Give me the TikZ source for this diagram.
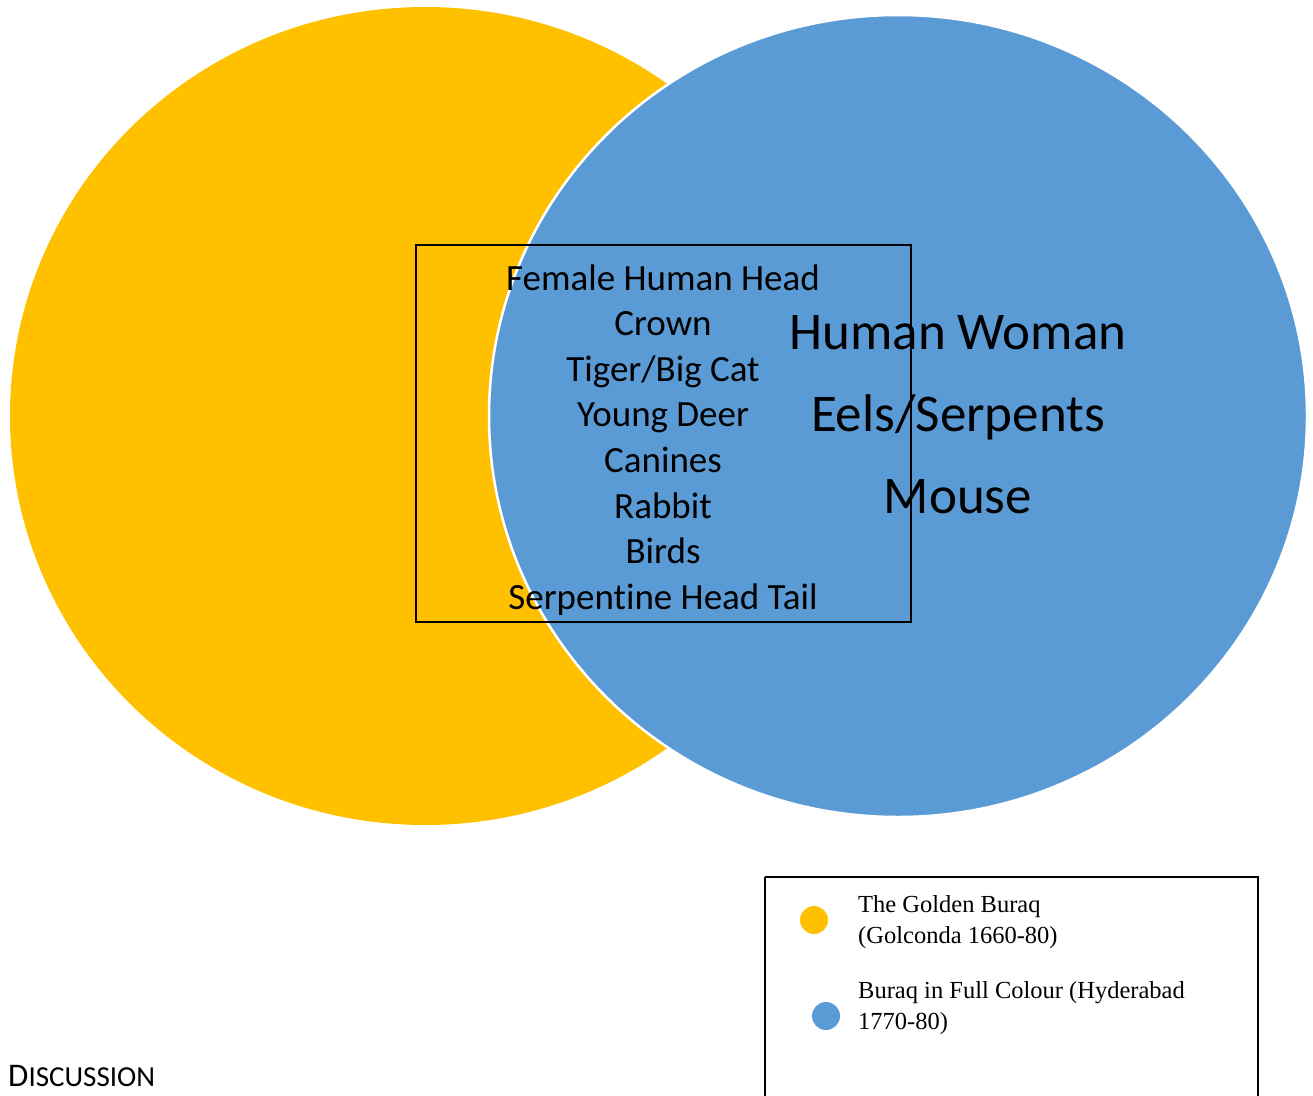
\documentclass[tikz,border=0pt]{standalone}
\usepackage{fontspec}
\setmainfont[Ligatures=NoCommon]{Carlito}
\newfontfamily\legfont{Liberation Serif}
\definecolor{venyellow}{HTML}{FFC000}
\definecolor{venblue}{HTML}{5B9BD5}
\begin{document}
\begin{tikzpicture}[x=1pt,y=-1pt,
  smalltxt/.style={anchor=base,inner sep=0pt,font=\fontsize{37}{40}\selectfont},
  bigtxt/.style={anchor=base,inner sep=0pt,font=\fontsize{53}{58}\selectfont},
  legtxt/.style={anchor=base west,inner sep=0pt,font=\legfont\fontsize{24.5}{28}\selectfont},
  dot/.style={circle,minimum size=28pt,inner sep=0pt}]
\useasboundingbox (0,0) rectangle (1313,1095);
% circles
\fill[venyellow] (425,416) ellipse [x radius=415, y radius=409];
\filldraw[fill=venblue,draw=white,line width=2.5pt] (898,416) ellipse [x radius=409, y radius=401];
% overlap box
\node[draw=black,line width=1.5pt,minimum width=495pt,minimum height=377pt,inner sep=0pt] (box) at (663.5,433.5) {};
% shared features
\node[smalltxt] (t1) at (663,290) {Female Human Head};
\node[smalltxt] (t2) at (663,335.6) {Crown};
\node[smalltxt] (t3) at (663,381.2) {Tiger/Big Cat};
\node[smalltxt] (t4) at (663,426.8) {Young Deer};
\node[smalltxt] (t5) at (663,472.4) {Canines};
\node[smalltxt] (t6) at (663,518) {Rabbit};
\node[smalltxt] (t7) at (663,563.6) {Birds};
\node[smalltxt] (t8) at (663,609.2) {Serpentine Head Tail};
% blue-only features
\node[bigtxt] (b1) at (958,349) {Human Woman};
\node[bigtxt] (b2) at (958,431) {Eels/Serpents};
\node[bigtxt] (b3) at (958,513) {Mouse};
% legend
\draw[line width=1.5pt] (765,877) -- (1258,877) -- (1258,1100) (765,877) -- (765,1100);
\node[dot,fill=venyellow] (d1) at (814,920) {};
\node[dot,fill=venblue] (d2) at (826,1016) {};
\node[legtxt] (l1) at (858,912) {The Golden Buraq};
\node[legtxt] (l2) at (858,943) {(Golconda 1660-80)};
\node[legtxt] (l3) at (858,998) {Buraq in Full Colour (Hyderabad};
\node[legtxt] (l4) at (858,1029) {1770-80)};
% discussion
\node[anchor=base west,inner sep=0pt] (disc) at (8,1086) {\fontsize{33}{36}\selectfont D\fontsize{29}{32}\selectfont ISCUSSION};
\end{tikzpicture}
\end{document}
